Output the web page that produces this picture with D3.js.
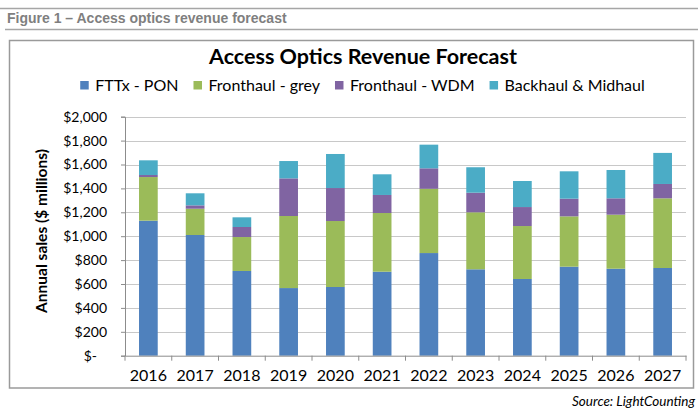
<!DOCTYPE html>
<html>
<head>
<meta charset="utf-8">
<script src="https://cdn.jsdelivr.net/npm/d3@7"></script>
<style>
  html, body { margin: 0; padding: 0; background: #fff; }
  svg { display: block; }
</style>
</head>
<body>
<div id="chart"></div>
<script>
const years = ['2016', '2017', '2018', '2019', '2020', '2021', '2022', '2023', '2024', '2025', '2026', '2027'];
const seriesNames = ['FTTx - PON', 'Fronthaul - grey', 'Fronthaul - WDM', 'Backhaul & Midhaul'];
const fttxPon = [1130, 1010, 709, 566, 575, 703, 859, 723, 642, 745, 728, 734];
const fronthaulGrey = [365, 220, 284, 603, 552, 491, 538, 477, 443, 421, 452, 583];
const fronthaulWdm = [17, 28, 84, 315, 276, 151, 171, 164, 159, 148, 137, 120];
const backhaulMidhaul = [123, 101, 81, 145, 285, 173, 198, 213, 218, 229, 237, 260];
const yTicks = [0, 200, 400, 600, 800, 1000, 1200, 1400, 1600, 1800, 2000];

const colors = ['#4f81bd', '#9bbb59', '#8064a2', '#4bacc6'];
const font = 'Lato, "Open Sans", sans-serif';

const width = 700, height = 418;
const svg = d3.select('#chart').append('svg')
  .attr('width', width)
  .attr('height', height);

// Page header
svg.append('line').attr('x1', 0).attr('x2', 698).attr('y1', 8.5).attr('y2', 8.5)
  .attr('stroke', '#a6a6a6').attr('stroke-width', 1.5);
svg.append('text')
  .attr('x', 7).attr('y', 23)
  .attr('font-family', '"Liberation Sans", Arial, sans-serif')
  .attr('font-weight', 'bold')
  .attr('font-size', 14)
  .attr('fill', '#7f7f7f')
  .text('Figure 1 \u2013 Access optics revenue forecast');
svg.append('line').attr('x1', 5).attr('x2', 698).attr('y1', 29.5).attr('y2', 29.5)
  .attr('stroke', '#a6a6a6').attr('stroke-width', 1.5);

// Chart box
svg.append('rect')
  .attr('x', 9.5).attr('y', 40.5)
  .attr('width', 684).attr('height', 347.5)
  .attr('fill', '#fff')
  .attr('stroke', '#9a9a9a').attr('stroke-width', 1.5);

// Title
svg.append('text')
  .attr('x', 363).attr('y', 64)
  .attr('text-anchor', 'middle')
  .attr('font-family', font)
  .attr('font-weight', 'bold')
  .attr('font-size', 21.5)
  .attr('fill', '#000')
  .text('Access Optics Revenue Forecast');

// Legend
const legend = svg.append('g').attr('font-family', font).attr('font-size', 16);
const gap = 15;
let lx = 0;
seriesNames.forEach((name, i) => {
  const g = legend.append('g');
  g.append('rect').attr('x', 0).attr('y', -9.5).attr('width', 8.5).attr('height', 8.5).attr('fill', colors[i]);
  const t = g.append('text').attr('x', 15).attr('y', 0).attr('fill', '#000').text(name);
  const w = 15 + t.node().getComputedTextLength();
  g.attr('transform', `translate(${lx},0)`);
  lx += w + gap;
});
const legendWidth = lx - gap;
legend.attr('transform', `translate(${362.5 - legendWidth / 2},90.5)`);

// Plot area
const margin = { left: 125, right: 686, top: 116.7, bottom: 355.7 };

const x = d3.scaleBand()
  .domain(years)
  .range([margin.left, margin.right])
  .paddingInner(0.6)
  .paddingOuter(0.3);

const y = d3.scaleLinear()
  .domain([0, 2000])
  .range([margin.bottom, margin.top]);

// Gridlines
svg.append('g')
  .selectAll('line')
  .data(yTicks.slice(1))
  .join('line')
  .attr('x1', margin.left).attr('x2', margin.right)
  .attr('y1', d => Math.round(y(d)) + 0.5).attr('y2', d => Math.round(y(d)) + 0.5)
  .attr('stroke', '#c8c8c8').attr('stroke-width', 1.2);

// Stacked bars
const rows = years.map((yr, i) => ({
  year: yr,
  s0: fttxPon[i],
  s1: fronthaulGrey[i],
  s2: fronthaulWdm[i],
  s3: backhaulMidhaul[i]
}));
const stack = d3.stack().keys(['s0', 's1', 's2', 's3'])(rows);

svg.append('g')
  .selectAll('g')
  .data(stack)
  .join('g')
  .attr('fill', (d, i) => colors[i])
  .selectAll('rect')
  .data(d => d)
  .join('rect')
  .attr('x', d => x(d.data.year))
  .attr('width', x.bandwidth())
  .attr('y', d => y(d[1]))
  .attr('height', d => y(d[0]) - y(d[1]));

// Y axis
const yAxis = svg.append('g')
  .attr('transform', `translate(${margin.left},0)`)
  .call(d3.axisLeft(y)
    .tickValues(yTicks)
    .tickSize(4)
    .tickPadding(14)
    .tickFormat(d => d === 0 ? '$-' : '$' + d3.format(',')(d)));
yAxis.select('.domain').attr('stroke', '#8c8c8c');
yAxis.selectAll('.tick line').attr('stroke', '#8c8c8c');
yAxis.selectAll('.tick text')
  .attr('font-family', font)
  .attr('font-size', 14)
  .attr('fill', '#000')
  .attr('dx', d => d === 0 ? -10 : 0);

// X axis
const xAxis = svg.append('g')
  .attr('transform', `translate(0,${margin.bottom})`)
  .call(d3.axisBottom(x).tickSize(0).tickPadding(10));
xAxis.select('.domain').attr('stroke', '#8c8c8c');
xAxis.selectAll('.tick text')
  .attr('font-family', font)
  .attr('font-size', 16)
  .attr('fill', '#000')
  .attr('dy', '0.95em');

// Category separators on x axis
const bounds = d3.range(years.length + 1).map(i => margin.left + i * (margin.right - margin.left) / years.length);
svg.append('g')
  .selectAll('line')
  .data(bounds)
  .join('line')
  .attr('x1', d => d).attr('x2', d => d)
  .attr('y1', margin.bottom).attr('y2', margin.bottom + 5)
  .attr('stroke', '#8c8c8c');

// Y axis title
svg.append('text')
  .attr('transform', `translate(47,231) rotate(-90)`)
  .attr('text-anchor', 'middle')
  .attr('font-family', font)
  .attr('font-weight', 'bold')
  .attr('font-size', 15.5)
  .attr('fill', '#000')
  .text('Annual sales ($ millions)');

// Source
svg.append('text')
  .attr('x', 695).attr('y', 406)
  .attr('text-anchor', 'end')
  .attr('font-family', font)
  .attr('font-style', 'italic')
  .attr('font-size', 13.5)
  .attr('fill', '#000')
  .text('Source: LightCounting');
</script>
</body>
</html>
